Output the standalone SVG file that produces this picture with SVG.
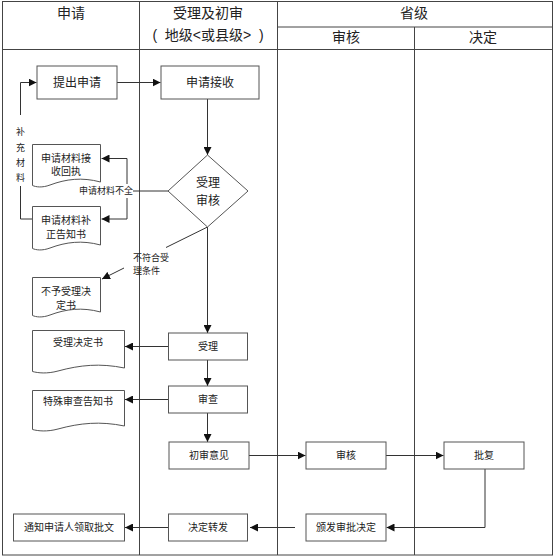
<svg xmlns="http://www.w3.org/2000/svg" width="555" height="557" viewBox="0 0 555 557">
<style>
text{font-family:'Liberation Sans','Noto Sans CJK SC',sans-serif;fill:#222;text-anchor:middle;dominant-baseline:central}
.h{font-size:14px}
.m{font-size:12px}
.s{font-size:10px}
.xs{font-size:9px}
.grid{stroke:#444;stroke-width:1;fill:none}
.box{fill:#fff;stroke:#555;stroke-width:1}
.ln{stroke:#333;stroke-width:1;fill:none}
.ar{stroke:#333;stroke-width:1;fill:none;marker-end:url(#a)}
</style>
<defs>
<marker id="a" viewBox="0 0 10 10" refX="10" refY="5" markerWidth="8" markerHeight="8" markerUnits="userSpaceOnUse" orient="auto">
<path d="M0,0 L10,5 L0,10 z" fill="#111"/>
</marker>
</defs>
<rect width="555" height="557" fill="#fff"/>
<g id="lanes">
<rect class="grid" x="2.5" y="1.5" width="550" height="553.5"/>
<line class="grid" x1="139.5" y1="1.5" x2="139.5" y2="555"/>
<line class="grid" x1="277.5" y1="1.5" x2="277.5" y2="555" stroke="#888"/>
<line class="grid" x1="414.5" y1="27" x2="414.5" y2="555"/>
<line class="grid" x1="277.5" y1="27" x2="552.5" y2="27"/>
<line class="grid" x1="2.5" y1="49.5" x2="552.5" y2="49.5"/>
<text class="h" x="71" y="13">申请</text>
<text class="h" x="208" y="13">受理及初审</text>
<text class="h" x="208" y="35" xml:space="preserve">(  地级&lt;或县级&gt;  )</text>
<text class="h" x="414" y="13">省级</text>
<text class="h" x="346" y="37">审核</text>
<text class="h" x="483" y="37">决定</text>
</g>
<g id="connectors">
<line class="ar" x1="117" y1="82.5" x2="160.5" y2="82.5"/>
<line class="ar" x1="207.5" y1="99" x2="207.5" y2="155"/>
<polyline class="ln" points="168,191 127,191"/>
<polyline class="ar" points="127,191 127,158.5 101.5,158.5"/>
<polyline class="ar" points="127,191 127,219 101.5,219"/>
<polyline class="ln" points="32,219 20.5,219 20.5,186"/>
<polyline class="ar" points="20.5,115 20.5,82.5 36.5,82.5"/>
<line class="ln" x1="207.5" y1="227" x2="166" y2="247.5"/>
<line class="ar" x1="124" y1="268" x2="102" y2="279"/>
<line class="ar" x1="207.5" y1="227" x2="207.5" y2="333"/>
<line class="ar" x1="168" y1="346.5" x2="125" y2="346.5"/>
<line class="ar" x1="207.5" y1="360" x2="207.5" y2="386"/>
<line class="ar" x1="168" y1="399.5" x2="125" y2="399.5"/>
<line class="ar" x1="207.5" y1="413" x2="207.5" y2="442"/>
<line class="ar" x1="249" y1="455.5" x2="305.5" y2="455.5"/>
<line class="ar" x1="386" y1="455.5" x2="443.5" y2="455.5"/>
<polyline class="ar" points="485,469 485,527.5 386.5,527.5"/>
<line class="ar" x1="295" y1="527.5" x2="250" y2="527.5"/>
<line class="ar" x1="168" y1="527.5" x2="125" y2="527.5"/>
<rect x="78" y="184" width="55" height="14" fill="#fff"/>
<text class="xs" x="106" y="191">申请材料不全</text>
<text class="xs" x="20.5" y="131.5">补</text>
<text class="xs" x="20.5" y="147.5">充</text>
<text class="xs" x="20.5" y="163">材</text>
<text class="xs" x="20.5" y="177.5">料</text>
<text class="xs" x="133" y="258" style="text-anchor:start">不符合受</text>
<text class="xs" x="133" y="271" style="text-anchor:start">理条件</text>
</g>
<g id="n-tichu"><rect class="box" x="37" y="66" width="80" height="33"/><text class="m" x="77" y="82.5">提出申请</text></g>
<g id="n-jieshou"><rect class="box" x="161" y="66" width="98" height="33"/><text class="m" x="210" y="82.5">申请接收</text></g>
<g id="n-shenhe-d"><path class="box" d="M207.5,155 L248,191 L207.5,227 L168,191 Z"/><text class="m" x="208" y="183">受理</text><text class="m" x="208" y="201">审核</text></g>
<g id="n-huizhi"><path class="box" d="M32.5,144.5 H100.5 V182 C82,177 66,179 50,185 C42,188 36,187 32.5,185.5 Z"/><text class="s" x="66" y="158">申请材料接</text><text class="s" x="66" y="171">收回执</text></g>
<g id="n-buzheng"><path class="box" d="M32.5,206.5 H100.5 V245 C82,240 66,242 50,248 C42,251 36,250 32.5,248.5 Z"/><text class="s" x="66" y="220">申请材料补</text><text class="s" x="66" y="234">正告知书</text></g>
<g id="n-buyu"><path class="box" d="M32.5,277.5 H100.5 V312 C82,307 66,309 50,315 C42,318 36,317 32.5,315.5 Z"/><text class="s" x="66" y="291">不予受理决</text><text class="s" x="66" y="305">定书</text></g>
<g id="n-shouli-doc"><path class="box" d="M32.5,330.5 H124.5 V368 C100,363 80,365 58,371 C47,374 38,373 32.5,371.5 Z"/><text class="s" x="78" y="342">受理决定书</text></g>
<g id="n-teshu"><path class="box" d="M32.5,390.5 H124.5 V426 C100,421 80,423 58,429 C47,432 38,431 32.5,429.5 Z"/><text class="s" x="78" y="401.5">特殊审查告知书</text></g>
<g id="n-shouli"><rect class="box" x="168.5" y="333" width="79" height="27"/><text class="s" x="208" y="346.5">受理</text></g>
<g id="n-shencha"><rect class="box" x="168.5" y="386" width="79" height="27"/><text class="s" x="208" y="399.5">审查</text></g>
<g id="n-chushen"><rect class="box" x="169" y="442" width="80" height="27"/><text class="s" x="209" y="455.5">初审意见</text></g>
<g id="n-shenhe"><rect class="box" x="306" y="442" width="80" height="27"/><text class="s" x="346" y="455.5">审核</text></g>
<g id="n-pifu"><rect class="box" x="444" y="442" width="80" height="27"/><text class="s" x="484" y="455.5">批复</text></g>
<g id="n-tongzhi"><rect class="box" x="13.5" y="514" width="111" height="27"/><text class="s" x="69" y="527.5">通知申请人领取批文</text></g>
<g id="n-zhuanfa"><rect class="box" x="168.5" y="514" width="79" height="27"/><text class="s" x="208" y="527.5">决定转发</text></g>
<g id="n-banfa"><rect class="box" x="306" y="514" width="80" height="27"/><text class="s" x="346" y="527.5">颁发审批决定</text></g>
</svg>
